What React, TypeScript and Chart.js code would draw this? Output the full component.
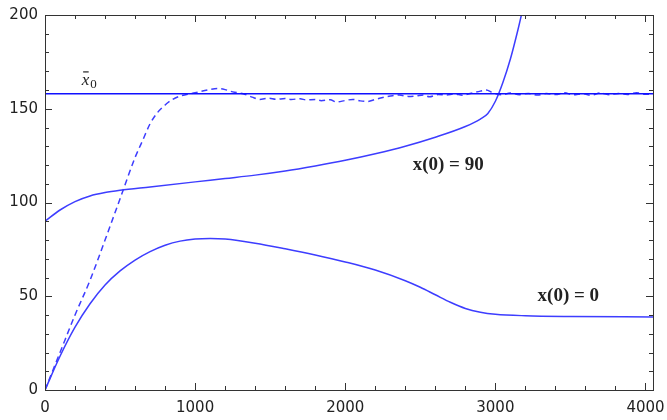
import React, { useEffect, useRef } from "react";
import { Chart, registerables } from "chart.js";

Chart.register(...registerables);

const X_MAX = 4050;
const Y_MAX = 200;
const X_MAJOR = [0, 1000, 2000, 3000, 4000];
const Y_MAJOR = [0, 50, 100, 150, 200];
const X0_BAR = 158;

// x(0) = 90 solution
const curve90X = [0, 100, 200, 300, 400, 500, 700, 1000, 1200, 1400, 1600, 1800, 2000, 2200, 2400, 2600, 2800, 2900, 2950, 3000, 3050, 3100, 3150, 3185];
const curve90Y = [90, 96, 100.5, 103.5, 105.3, 106.5, 108.3, 111, 112.8, 114.6, 116.8, 119.5, 122.5, 126, 130, 134.8, 140.5, 144.5, 147.5, 154, 164, 176.5, 192, 204];

// x(0) = 0 solution
const curve0X = [0, 100, 200, 300, 400, 500, 600, 700, 800, 900, 1000, 1100, 1200, 1400, 1600, 1800, 2000, 2200, 2400, 2500, 2600, 2700, 2800, 2900, 3000, 3200, 3500, 4050];
const curve0Y = [0, 18, 33.5, 46, 56, 63.5, 69.3, 73.8, 77.2, 79.4, 80.5, 80.8, 80.5, 78.3, 75.3, 72, 68.3, 64, 58.3, 54.8, 50.8, 46.8, 43.5, 41.5, 40.4, 39.6, 39.2, 39];

// dashed (stochastic) path
const dashX = [0, 100, 200, 300, 400, 500, 600, 650, 700, 750, 800, 850, 900, 1000, 1100, 1150, 1200, 1250, 1320, 1380, 1430, 1490, 1540, 1600, 1640, 1700, 1740, 1800, 1840, 1900, 1940, 2000, 2050, 2100, 2150, 2200, 2250, 2300, 2360, 2420, 2470, 2520, 2560, 2620, 2670, 2730, 2780, 2840, 2900, 2940, 2980, 3040, 3100, 3160, 3220, 3280, 3340, 3400, 3460, 3520, 3580, 3640, 3700, 3760, 3820, 3880, 3940, 4000, 4050];
const dashY = [0, 20, 40, 58.5, 80, 102, 124, 133, 142, 148, 152, 155, 156.8, 158.5, 160.3, 160.8, 160.2, 159, 158, 156.2, 155, 155.6, 155, 155.5, 155, 155.3, 154.7, 155, 154.3, 154.8, 153.6, 154.4, 155, 154.2, 153.9, 155, 156, 156.8, 157.3, 156.6, 156.8, 157.4, 156.4, 157.6, 157.3, 157.9, 157.2, 158.3, 159.4, 160, 158.6, 157.4, 158.4, 157.5, 158.2, 157.3, 158.1, 157.6, 158.5, 157.4, 158, 157.2, 158.4, 157.5, 158.1, 157.6, 158.5, 157.7, 158];

const pts = (xs: number[], ys: number[]) => xs.map((x, i) => ({ x, y: ys[i] }));

const framePlugin = {
  id: "framePlugin",
  afterDatasetsDraw(chart: any) {
    const { ctx, chartArea: a, scales } = chart;
    const xs = scales.x;
    const ys = scales.y;
    ctx.save();
    ctx.strokeStyle = "#333333";
    ctx.lineWidth = 1;
    ctx.strokeRect(Math.round(a.left) + 0.5, Math.round(a.top) + 0.5, Math.round(a.right - a.left), Math.round(a.bottom - a.top));
    ctx.beginPath();
    for (let v = 0; v <= X_MAX; v += 200) {
      const p = Math.round(xs.getPixelForValue(v)) + 0.5;
      const len = X_MAJOR.includes(v) ? 7 : 4;
      ctx.moveTo(p, a.bottom);
      ctx.lineTo(p, a.bottom - len);
      ctx.moveTo(p, a.top);
      ctx.lineTo(p, a.top + len);
    }
    for (let v = 0; v <= Y_MAX; v += 10) {
      const p = Math.round(ys.getPixelForValue(v)) + 0.5;
      const len = Y_MAJOR.includes(v) ? 7 : 4;
      ctx.moveTo(a.left, p);
      ctx.lineTo(a.left + len, p);
      ctx.moveTo(a.right, p);
      ctx.lineTo(a.right - len, p);
    }
    ctx.stroke();

    // labels
    ctx.fillStyle = "#222222";
    ctx.font = "bold 19px 'Liberation Serif', serif";
    ctx.textBaseline = "middle";
    ctx.textAlign = "left";
    ctx.fillText("x(0) = 90", xs.getPixelForValue(2449), ys.getPixelForValue(120));
    ctx.fillText("x(0) = 0", xs.getPixelForValue(3281), ys.getPixelForValue(50));

    // x-bar sub 0
    const lx = xs.getPixelForValue(244);
    const ly = ys.getPixelForValue(162.5);
    ctx.textBaseline = "alphabetic";
    ctx.font = "italic 17px 'Liberation Serif', serif";
    ctx.fillText("x", lx, ly);
    const w = ctx.measureText("x").width;
    ctx.fillRect(lx + 1.5, ly - 14, w - 2, 1.2);
    ctx.font = "13px 'Liberation Serif', serif";
    ctx.fillText("0", lx + w + 1, ly + 3);
    ctx.restore();
  },
};

export default function App() {
  const ref = useRef<HTMLCanvasElement>(null);
  useEffect(() => {
    document.body.style.margin = "0";
    const line = "#3d3dff";
    const chart = new Chart(ref.current as HTMLCanvasElement, {
      type: "line",
      data: {
        datasets: [
          { data: pts([0, X_MAX], [X0_BAR, X0_BAR]), borderColor: "#1010ff", borderWidth: 1.6, pointRadius: 0, tension: 0 },
          { data: pts(dashX, dashY), borderColor: line, borderWidth: 1.5, borderDash: [6, 4], pointRadius: 0, cubicInterpolationMode: "monotone" },
          { data: pts(curve90X, curve90Y), borderColor: line, borderWidth: 1.5, pointRadius: 0, cubicInterpolationMode: "monotone" },
          { data: pts(curve0X, curve0Y), borderColor: line, borderWidth: 1.5, pointRadius: 0, cubicInterpolationMode: "monotone" },
        ],
      },
      options: {
        animation: false,
        responsive: false,
        maintainAspectRatio: false,
        layout: { padding: { top: 15, right: 14, left: 0, bottom: 0 } },
        plugins: { legend: { display: false }, tooltip: { enabled: false } },
        scales: {
          x: {
            type: "linear",
            min: 0,
            max: X_MAX,
            grid: { display: false, drawTicks: false },
            border: { display: false },
            ticks: {
              padding: 9,
              color: "#222222",
              font: { family: "'DejaVu Sans', sans-serif", size: 15 },
              maxRotation: 0,
              autoSkip: false,
              callback: (v: any) => String(v),
            },
            afterBuildTicks: (s: any) => {
              s.ticks = X_MAJOR.map((v) => ({ value: v }));
            },
            afterFit: (s: any) => {
              s.height = 30;
              s.paddingLeft = 0;
              s.paddingRight = 0;
            },
          },
          y: {
            type: "linear",
            min: 0,
            max: Y_MAX,
            grid: { display: false, drawTicks: false },
            border: { display: false },
            ticks: {
              padding: 7,
              color: "#222222",
              font: { family: "'DejaVu Sans', sans-serif", size: 15 },
              autoSkip: false,
              callback: (v: any) => String(v),
            },
            afterBuildTicks: (s: any) => {
              s.ticks = Y_MAJOR.map((v) => ({ value: v }));
            },
            afterFit: (s: any) => {
              s.width = 45;
              s.paddingTop = 0;
              s.paddingBottom = 0;
            },
          },
        },
      },
      plugins: [framePlugin],
    });
    return () => chart.destroy();
  }, []);
  return <canvas ref={ref} width={667} height={420} style={{ display: "block", width: 667, height: 420 }} />;
}
